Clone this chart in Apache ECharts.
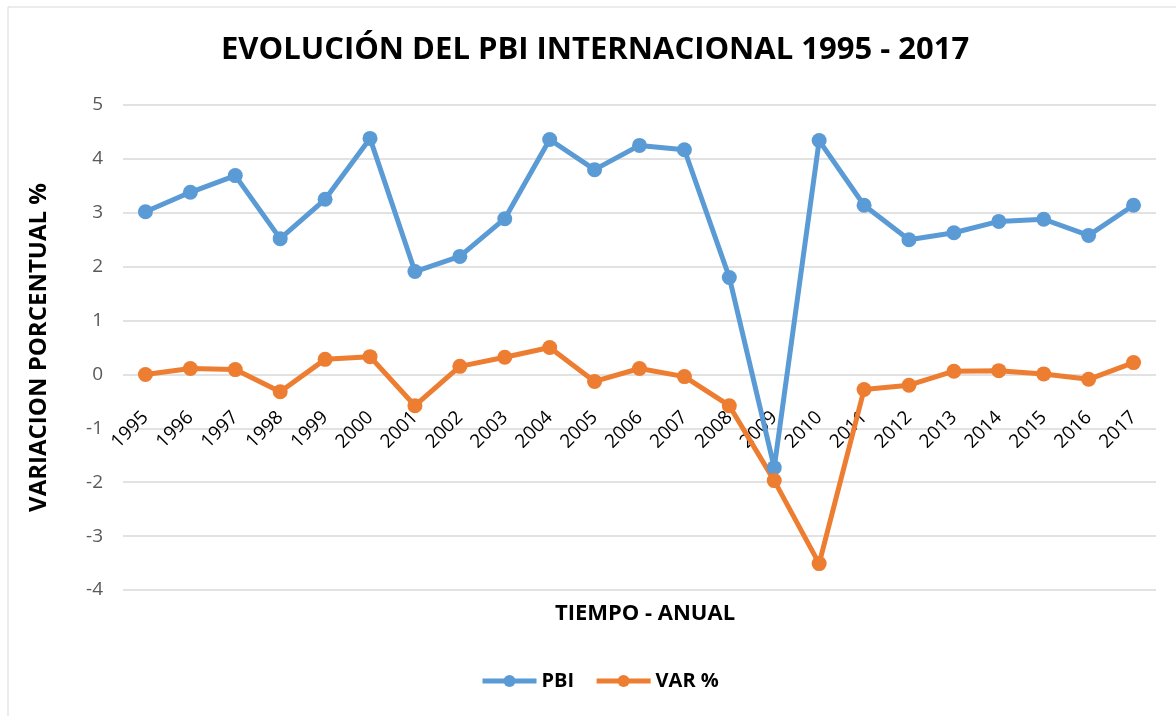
<!DOCTYPE html>
<html>
<head>
<meta charset="utf-8">
<script src="https://cdn.jsdelivr.net/npm/echarts@6/dist/echarts.min.js"></script>
<style>
  html,body{margin:0;padding:0;background:#fff;}
  #chart{width:1176px;height:716px;}
</style>
</head>
<body>
<div id="chart"></div>
<script>
// años
var years=['1995','1996','1997','1998','1999','2000','2001','2002','2003','2004','2005','2006',
  '2007','2008','2009','2010','2011','2012','2013','2014','2015','2016','2017'];
// PBI internacional, variacion %
var pbi=[3.02,3.38,3.69,2.52,3.25,4.38,1.91,2.19,2.89,4.36,3.80,4.25,4.17,1.80,-1.73,4.34,3.14,2.50,2.63,2.84,2.88,2.58,3.14];
var varPct=[0.00,0.11,0.09,-0.32,0.28,0.33,-0.58,0.15,0.32,0.50,-0.13,0.11,-0.04,-0.58,-1.97,-3.51,-0.28,-0.20,0.06,0.07,0.01,-0.09,0.22];
var yTicks={min:-4,max:5,step:1};

var myChart=echarts.init(document.getElementById('chart'));
var fontBase='"Open Sans", "Liberation Sans", sans-serif';

var gridTop=105, gridBottom=126, chartH=716;
// las etiquetas del eje X van sobre la linea del cero
var plotH=chartH-gridTop-gridBottom;
var zeroOffset=-plotH*(0-yTicks.min)/(yTicks.max-yTicks.min);

var option={
  animation:false,
  backgroundColor:'#fff',
  graphic:[{
    type:'rect',
    shape:{x:8,y:7,width:1180,height:720},
    style:{fill:'none',stroke:'#d9d9d9',lineWidth:1},
    silent:true
  }],
  title:[{
    text:'EVOLUCIÓN DEL PBI INTERNACIONAL 1995 - 2017',
    left:216,
    top:30,
    textStyle:{fontFamily:fontBase,fontWeight:'bold',fontSize:31,color:'#000'}
  },{
    text:'TIEMPO - ANUAL',
    left:640,
    textAlign:'center',
    top:598,
    textStyle:{fontFamily:fontBase,fontWeight:'bold',fontSize:22,color:'#000'}
  }],
  legend:{
    bottom:20,
    left:475,
    itemWidth:54,
    itemHeight:15,
    itemGap:20,
    lineStyle:{width:5},
    textStyle:{fontFamily:fontBase,fontWeight:'bold',fontSize:20,color:'#000'},
    data:['PBI','VAR %']
  },
  grid:{left:123,right:20,top:gridTop,bottom:gridBottom},
  xAxis:{
    type:'category',
    data:years,
    boundaryGap:true,
    offset:zeroOffset,
    axisLine:{show:false,onZero:false},
    axisTick:{show:false},
    axisLabel:{
      interval:0,
      rotate:45,
      margin:40,
      fontFamily:fontBase,
      fontSize:19,
      color:'#000'
    }
  },
  yAxis:{
    type:'value',
    min:yTicks.min,
    max:yTicks.max,
    interval:yTicks.step,
    name:'VARIACION PORCENTUAL %',
    nameLocation:'middle',
    nameGap:72,
    nameTextStyle:{fontFamily:fontBase,fontWeight:'bold',fontSize:24,color:'#000'},
    axisLine:{show:false},
    axisTick:{show:false},
    axisLabel:{fontFamily:fontBase,fontSize:19,color:'#595959',margin:20},
    splitLine:{lineStyle:{color:'#d9d9d9',width:1.5}}
  },
  series:[{
    name:'PBI',
    type:'line',
    data:pbi,
    symbol:'circle',
    symbolSize:15,
    color:'#5B9BD5',
    lineStyle:{width:5,color:'#5B9BD5'},
    itemStyle:{color:'#5B9BD5'}
  },{
    name:'VAR %',
    type:'line',
    data:varPct,
    symbol:'circle',
    symbolSize:15,
    color:'#ED7D31',
    lineStyle:{width:5,color:'#ED7D31'},
    itemStyle:{color:'#ED7D31'}
  }]
};
myChart.setOption(option);
</script>
</body>
</html>
